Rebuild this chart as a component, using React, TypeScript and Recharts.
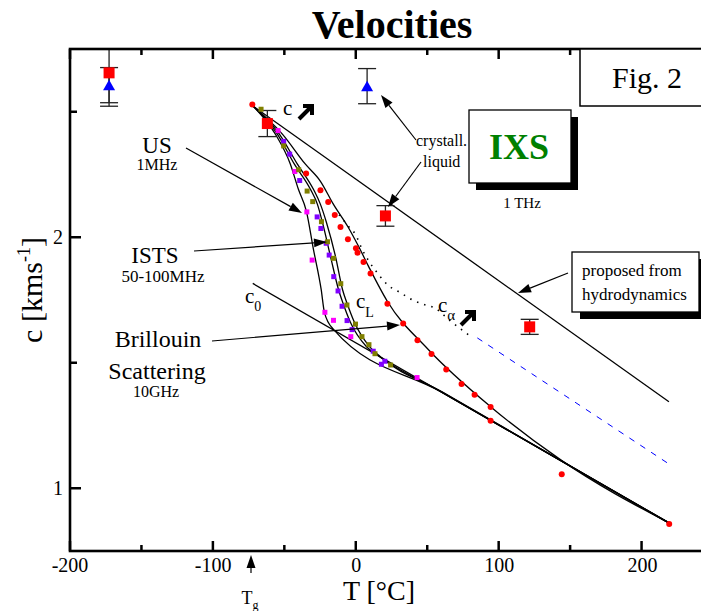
import React from 'react';
import { ComposedChart, Line, Scatter, XAxis, YAxis, ErrorBar } from 'recharts';

const SERIF = '"Liberation Serif", "Times New Roman", Times, serif';

// axis ticks
const tempTicks = [-200, -150, -100, -50, 0, 50, 100, 150, 200];
const tempLabels = [-200, -100, 0, 100, 200];
const velTicks = [1, 1.5, 2, 2.5];
const velLabels = [1, 2];

// measured data points [T (°C), c (km/s)]
const redDots = [
  [-72.6, 2.529], [-35.0, 2.254], [-25.0, 2.187], [-19.6, 2.14], [-15.0, 2.089],
  [-11.0, 2.041], [-5.8, 1.992], [-0.2, 1.956], [0.9, 1.938], [5.1, 1.901],
  [10.0, 1.856], [21.8, 1.735], [32.8, 1.656], [42.8, 1.59], [52.6, 1.535],
  [62.9, 1.473], [73.6, 1.415], [82.7, 1.373], [93.9, 1.324], [93.9, 1.269],
  [143.6, 1.056], [218.7, 0.858],
];
const olivePoints = [
  [-66.5, 2.51], [-50.7, 2.364], [-40.2, 2.269], [-34.3, 2.184], [-30.4, 2.142],
  [-24.3, 2.062], [-20.1, 1.982], [-15.9, 1.916], [-10.8, 1.815], [-6.5, 1.73],
  [-0.5, 1.654], [4.0, 1.604], [8.9, 1.572], [13.1, 1.536], [24.0, 1.491],
];
const purplePoints = [
  [-50.7, 2.382], [-46.5, 2.331], [-39.5, 2.226], [-27.3, 2.081], [-24.7, 2.035],
  [-21.0, 1.976], [-18.9, 1.929], [-15.7, 1.843], [-12.7, 1.786], [-9.9, 1.725],
  [-6.4, 1.668], [-2.9, 1.632], [11.9, 1.546], [17.6, 1.494], [20.0, 1.506],
];
const magentaPoints = [
  [-54.6, 2.425], [-42.9, 2.262], [-34.5, 2.101], [-30.8, 1.909], [-21.9, 1.701],
  [-15.9, 1.669], [-3.8, 1.604], [42.5, 1.441],
];

// IXS points [T, c, lower error, upper error]
const ixsLiquid = [
  [-172.7, 2.655, 0.133, 0.095],
  [-62.1, 2.453, 0.052, 0.052],
  [20.4, 2.085, 0.041, 0.041],
  [121.2, 1.643, 0.03, 0.03],
];
const ixsCrystal = [
  [-172.7, 2.606, 0.07, 0.07],
  [7.6, 2.602, 0.07, 0.07],
];

// model curves [T, c]
const proposedLine = [[-71.9, 2.522], [218.5, 1.345]];
const c0Line = [[-72.3, 1.816], [218.7, 0.861]];
const usCurve = [
  [-71.9, 2.522], [-56.5, 2.411], [-46.0, 2.291], [-40.4, 2.191], [-34.8, 2.103],
  [-29.9, 1.952], [-24.5, 1.792], [-22.2, 1.7], [-15.9, 1.633], [60, 1.382], [218.7, 0.861],
];
const istsCurveA = [
  [-71.9, 2.522], [-55.1, 2.411], [-43.2, 2.291], [-32.0, 2.191], [-27.1, 2.131],
  [-23.6, 2.059], [-18.0, 1.924], [-12.4, 1.792], [-8.9, 1.732], [-4.0, 1.66],
  [7.2, 1.564], [14.9, 1.53], [60, 1.382], [218.7, 0.861],
];
const istsCurveB = [
  [-71.9, 2.522], [-53.7, 2.411], [-41.1, 2.291], [-29.9, 2.191], [-25.0, 2.131],
  [-20.8, 2.059], [-14.5, 1.924], [-9.6, 1.792], [-6.1, 1.732], [-1.2, 1.66],
  [9.3, 1.564], [17.0, 1.523], [60, 1.384], [218.7, 0.862],
];
const cLCurve = [
  [-71.9, 2.522], [-51.6, 2.411], [-35.5, 2.291], [-25.0, 2.223], [-15.9, 2.131],
  [-5.5, 2.039], [1.6, 1.964], [8.6, 1.884], [21.8, 1.744], [50.5, 1.552],
  [93.9, 1.325], [142.9, 1.113], [218.5, 0.862],
];
const cAlphaDotted = [
  [-12.0, 2.09], [-5.2, 2.042], [-0.5, 2.011], [4.1, 1.952], [8.8, 1.905],
  [14.6, 1.859], [21.6, 1.812], [30.9, 1.779], [40, 1.748], [47.3, 1.732],
  [55.4, 1.717], [64, 1.675], [72.9, 1.635], [80, 1.605],
];
const cAlphaDashed = [[84.6, 1.599], [221.1, 1.087]];

const pts = (rows: number[][]) => rows.map(([T, c]) => ({ T, c }));
const errPts = (rows: number[][]) => rows.map(([T, c, lo, hi]) => ({ T, c, err: [lo, hi] }));

// plot frame geometry (shared by chart margins and the frame overlay)
const LEFT = 70;
const TOP = 49;
const BOTTOM = 551;
const CHART_W = 709;
const PX_PER_DEG = 1.4289;
const T_DOMAIN = [-200, -200 + (CHART_W - 1 - LEFT) / PX_PER_DEG];
const C_DOMAIN = [0.75, 2.75];
const FRAME_RIGHT = LEFT + 450 * PX_PER_DEG; // -200..250 frame, right edge just off-page
const tx = (t: number) => LEFT + (t - T_DOMAIN[0]) * PX_PER_DEG;
const cy = (c: number) => BOTTOM - ((c - C_DOMAIN[0]) / (C_DOMAIN[1] - C_DOMAIN[0])) * (BOTTOM - TOP);

const BottomLabel = (p: any) =>
  tempLabels.includes(p.payload.value) ? (
    <text x={p.x} y={p.y + 21} textAnchor="middle" fontSize={20} fontFamily={SERIF} fill="#000">
      {p.payload.value}
    </text>
  ) : <g />;
const LeftLabel = (p: any) =>
  velLabels.includes(p.payload.value) ? (
    <text x={p.x - 7} y={p.y + 7} textAnchor="end" fontSize={20} fontFamily={SERIF} fill="#000">
      {p.payload.value}
    </text>
  ) : <g />;

const circleShape = (fill: string, r: number) => (p: any) => <circle cx={p.cx} cy={p.cy} r={r} fill={fill} />;
const squareShape = (fill: string, s: number) => (p: any) => (
  <rect x={p.cx - s / 2} y={p.cy - s / 2} width={s} height={s} fill={fill} />
);
const triangleShape = (p: any) => (
  <polygon points={`${p.cx},${p.cy - 5.5} ${p.cx + 6},${p.cy + 5} ${p.cx - 6},${p.cy + 5}`} fill="#0000ff" />
);

const Arrow = ({ x1, y1, x2, y2 }: { x1: number; y1: number; x2: number; y2: number }) => {
  const a = Math.atan2(y2 - y1, x2 - x1);
  const L = 13;
  const W = 4.5;
  const bx = x2 - L * Math.cos(a);
  const by = y2 - L * Math.sin(a);
  const px = -Math.sin(a) * W;
  const py = Math.cos(a) * W;
  return (
    <g>
      <line x1={x1} y1={y1} x2={bx} y2={by} stroke="#000" strokeWidth={1.2} />
      <polygon points={`${x2},${y2} ${bx + px},${by + py} ${bx - px},${by - py}`} fill="#000" />
    </g>
  );
};

const BoldArrow = ({ x, y }: { x: number; y: number }) => (
  <g transform={`translate(${x},${y})`} stroke="#000" strokeWidth={4} fill="none">
    <line x1={-7} y1={7} x2={5} y2={-5} />
    <polyline points="-3,-6 6,-6 6,3" strokeLinejoin="miter" />
  </g>
);

const lineProps = { dataKey: 'c', dot: false, activeDot: false, isAnimationActive: false } as const;

export default function App() {
  return (
    <div style={{ position: 'relative', width: 709, height: 611, margin: '-8px 0 0 -8px', background: '#fff' }}>
      <ComposedChart width={CHART_W} height={611} margin={{ top: TOP, right: 0, bottom: 611 - BOTTOM - 1, left: LEFT - 1 }}>
        <XAxis
          type="number" dataKey="T" domain={T_DOMAIN} ticks={tempTicks} interval={0}
          height={1} tickSize={0} tickMargin={0} tickLine={false} axisLine={false}
          tick={BottomLabel} allowDataOverflow
        />
        <YAxis
          type="number" dataKey="c" domain={C_DOMAIN} ticks={velTicks} interval={0}
          width={1} tickSize={0} tickMargin={0} tickLine={false} axisLine={false}
          tick={LeftLabel} allowDataOverflow
        />

        <Line data={pts(proposedLine)} type="linear" stroke="#000" strokeWidth={1.3} {...lineProps} />
        <Line data={pts(c0Line)} type="linear" stroke="#000" strokeWidth={1.3} {...lineProps} />
        <Line data={pts(usCurve)} type="monotone" stroke="#000" strokeWidth={1.3} {...lineProps} />
        <Line data={pts(istsCurveA)} type="monotone" stroke="#000" strokeWidth={1.3} {...lineProps} />
        <Line data={pts(istsCurveB)} type="monotone" stroke="#000" strokeWidth={1.3} {...lineProps} />
        <Line data={pts(cLCurve)} type="monotone" stroke="#000" strokeWidth={1.3} {...lineProps} />
        <Line data={pts(cAlphaDotted)} type="monotone" stroke="#000" strokeWidth={1.6} strokeDasharray="1.5 6" {...lineProps} />
        <Line data={pts(cAlphaDashed)} type="linear" stroke="#0000ff" strokeWidth={1} strokeDasharray="6 7" {...lineProps} />

        <Scatter data={pts(magentaPoints)} dataKey="c" shape={squareShape('#ff00ff', 5)} isAnimationActive={false} />
        <Scatter data={pts(purplePoints)} dataKey="c" shape={squareShape('#8000ff', 5)} isAnimationActive={false} />
        <Scatter data={pts(olivePoints)} dataKey="c" shape={squareShape('#808000', 5)} isAnimationActive={false} />
        <Scatter data={pts(redDots)} dataKey="c" shape={circleShape('#ff0000', 3)} isAnimationActive={false} />

        <Scatter data={errPts(ixsCrystal)} dataKey="c" shape={triangleShape} isAnimationActive={false}>
          <ErrorBar dataKey="err" direction="y" width={9} stroke="#222" strokeWidth={1.3} />
        </Scatter>
        <Scatter data={errPts(ixsLiquid)} dataKey="c" shape={squareShape('#ff0000', 11)} isAnimationActive={false}>
          <ErrorBar dataKey="err" direction="y" width={9} stroke="#222" strokeWidth={1.3} />
        </Scatter>
      </ComposedChart>

      {/* frame, inward ticks and annotations on top */}
      <svg width={709} height={611} style={{ position: 'absolute', left: 0, top: 0, pointerEvents: 'none' }} fontFamily={SERIF}>
        <rect x={LEFT} y={TOP} width={FRAME_RIGHT - LEFT} height={BOTTOM - TOP} fill="none" stroke="#000" strokeWidth={2.6} />
        {tempTicks.map((t) => {
          const len = tempLabels.includes(t) ? 10 : 6;
          return (
            <g key={`tx${t}`} stroke="#000" strokeWidth={2.5}>
              <line x1={tx(t)} x2={tx(t)} y1={BOTTOM} y2={BOTTOM - len} />
              <line x1={tx(t)} x2={tx(t)} y1={TOP} y2={TOP + len} />
            </g>
          );
        })}
        {velTicks.map((v) => {
          const len = velLabels.includes(v) ? 11 : 7;
          return (
            <g key={`cy${v}`} stroke="#000" strokeWidth={2.5}>
              <line x1={LEFT} x2={LEFT + len} y1={cy(v)} y2={cy(v)} />
              <line x1={FRAME_RIGHT} x2={FRAME_RIGHT - len} y1={cy(v)} y2={cy(v)} />
            </g>
          );
        })}

        <text x={392} y={38} textAnchor="middle" fontSize={40} fontWeight="bold">Velocities</text>
        <text transform="translate(42,290) rotate(-90)" textAnchor="middle" fontSize={30}>
          c [kms<tspan dy={-12} fontSize={18}>-1</tspan><tspan dy={12}>]</tspan>
        </text>
        <text x={379} y={600} textAnchor="middle" fontSize={28}>T [°C]</text>

        <Arrow x1={251} y1={573} x2={251} y2={555} />
        <text x={250} y={604} textAnchor="middle" fontSize={18}>T<tspan dy={5} fontSize={12}>g</tspan></text>

        <rect x={580} y={49} width={140} height={57} fill="#fff" stroke="#000" strokeWidth={1.5} />
        <text x={647} y={88} textAnchor="middle" fontSize={30}>Fig. 2</text>

        <rect x={476} y={117} width={102} height={73} fill="#000" />
        <rect x={469} y={110} width={102} height={73} fill="#fff" stroke="#000" strokeWidth={1.3} />
        <text x={519} y={159} textAnchor="middle" fontSize={36} fontWeight="bold" fill="#008000">IXS</text>
        <text x={522} y={208} textAnchor="middle" fontSize={15}>1 THz</text>

        <text x={416} y={146} fontSize={16}>crystall.</text>
        <text x={423} y={167} fontSize={16}>liquid</text>
        <Arrow x1={416} y1={140} x2={381} y2={95} />
        <Arrow x1={421} y1={162} x2={388} y2={207} />

        <rect x={580} y={259} width={127} height={60} fill="#000" />
        <rect x={572} y={252} width={127} height={60} fill="#fff" stroke="#000" strokeWidth={1.3} />
        <text x={582} y={276} fontSize={17}>proposed from</text>
        <text x={582} y={300} fontSize={17}>hydrodynamics</text>
        <Arrow x1={568} y1={273} x2={518} y2={293} />

        <text x={157} y={153} textAnchor="middle" fontSize={23}>US</text>
        <text x={157} y={170} textAnchor="middle" fontSize={16}>1MHz</text>
        <Arrow x1={186} y1={148} x2={302} y2={213} />

        <text x={155} y={263} textAnchor="middle" fontSize={23}>ISTS</text>
        <text x={163} y={282} textAnchor="middle" fontSize={17}>50-100MHz</text>
        <Arrow x1={194} y1={251} x2={327} y2={242} />

        <text x={158} y={347} textAnchor="middle" fontSize={24}>Brillouin</text>
        <text x={157} y={379} textAnchor="middle" fontSize={24}>Scattering</text>
        <text x={156} y={397} textAnchor="middle" fontSize={16}>10GHz</text>
        <Arrow x1={212} y1={341} x2={400} y2={325} />

        <text x={245} y={303} fontSize={21}>c<tspan dy={8} fontSize={14}>0</tspan></text>
        <text x={356} y={308} fontSize={21}>c<tspan dy={9} fontSize={14}>L</tspan></text>
        <text x={283} y={115} fontSize={21}>c</text>
        <BoldArrow x={306} y={112} />
        <text x={438} y={312} fontSize={21}>c<tspan dy={8} fontSize={15}>α</tspan></text>
        <BoldArrow x={468} y={318} />
      </svg>
    </div>
  );
}
